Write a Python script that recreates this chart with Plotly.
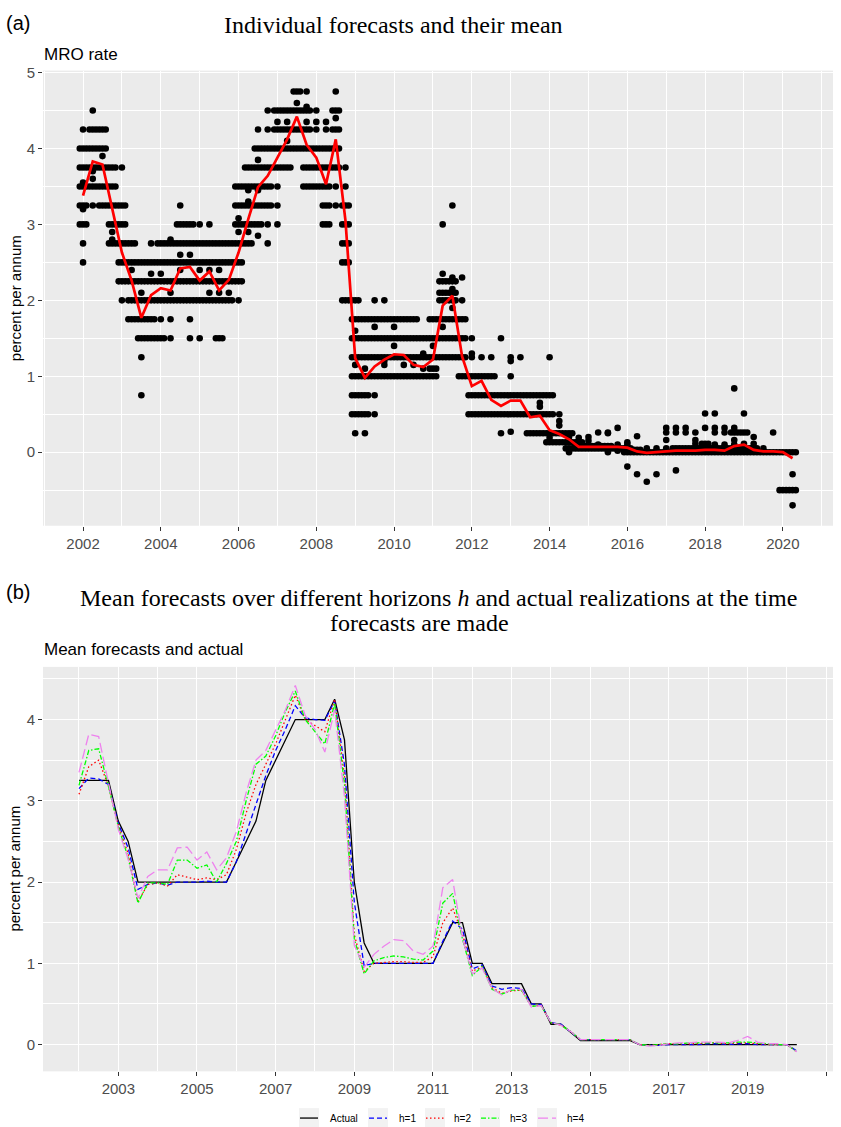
import pandas as pd
import plotly.graph_objects as go

# ---------------- DATA ----------------
quarters = pd.period_range("2002Q1", "2020Q2", freq="Q")
qx = [p.year + (p.quarter - 1) / 4 for p in quarters]

# individual forecasts: levels reported through the quarter (bands) and isolated forecasts (singles)
band_levels = [
    "4 3.75 3.5 3.25 3", "4.25 4 3.75 3.5", "4.25 4 3.75 3.5 3.25", "3.75 3.5 3.25 3 2.75",
    "3.25 3 2.75 2.5 2.25", "2.75 2.5 2.25 2 1.75", "2.5 2.25 2 1.75 1.5", "2.5 2.25 2 1.75 1.5",
    "2.75 2.5 2.25 2 1.5", "2.75 2.5 2.25 2", "3 2.75 2.5 2.25 2", "3 2.75 2.5 2.25 2",
    "2.75 2.5 2.25 2", "2.75 2.5 2.25 2", "2.75 2.5 2.25 2 1.5", "2.75 2.5 2.25 2",
    "3.5 3.25 3 2.75 2.5 2.25", "3.75 3.5 3.25 3 2.75", "4 3.75 3.5 3.25 3", "4 3.75 3.5 3.25",
    "4.5 4.25 4 3.75", "4.5 4.25 4 3.75", "4.75 4.5 4.25 4", "4.5 4.25 4 3.75 3.5",
    "4 3.75 3.5", "4 3.75 3.5 3.25 3", "4.5 4.25 4 3.75", "3.25 3 2.75 2.5 2",
    "2 1.75 1.5 1.25 1 0.75 0.5", "1.75 1.5 1.25 1 0.75 0.5", "1.75 1.5 1.25 1", "1.75 1.5 1.25 1",
    "1.75 1.5 1.25 1", "1.75 1.5 1.25 1", "1.75 1.5 1.25 1", "1.5 1.25 1",
    "1.75 1.5 1.25 1.1 1", "2.25 2.1 2 1.75 1.5 1.25", "2.25 2.1 2 1.75 1.5 1.25", "1.75 1.5 1.25 1",
    "1 0.75 0.5", "1 0.75 0.5", "1 0.75 0.5", "0.75 0.5",
    "0.75 0.5", "0.75 0.5", "0.75 0.5 0.25", "0.75 0.5 0.25",
    "0.75 0.5 0.25 0.13", "0.25 0.13", "0.25 0.13 0.05", "0.13 0.08 0.05",
    "0.08 0.05", "0.08 0.05", "0.08 0.05", "0.05",
    "0.05 0", "0.03 0", "0", "0",
    "0", "0.05 0", "0.05 0", "0.05 0",
    "0.11 0.05 0", "0.05 0", "0.05 0", "0.26 0.05 0",
    "0.26 0.05 0", "0.05 0", "0", "0",
    "0 -0.5", "0 -0.5",
]
single_levels = [
    "4.25 3.55 3.2 2.75 2.5", "4.5 3.7 3.6 3.25", "3.9", "2.9 2.8",
    "3.75 2", "2.4", "2.1 1.25 0.75", "2.75 2.35",
    "2.35 1.75", "2.8 2.1 1.75 1.5", "3.25 2.6 2.4", "2.6 1.75 1.5",
    "3 2.4 1.5", "3 2.4 2.1", "2.4 2.1", "2.1",
    "3.08 2.9 2", "3.45 3.3 2.9", "4.25 3.85 3.45 2.85", "4.5 4.25 3 2.75",
    "4.35 3.5 3.25 3", "4.35 4.1", "4.6", "4.75 4.55 4.35",
    "4.5 4.35 4.25", "4.35 4.25", "4.75 4.4 3.5 3.25", "3.75 3.5",
    "1.6 1.15 0.25", "1.1 0.25", "2 1.65 0.75 0.5", "2 1.2 1.15",
    "1.65 1.4", "1.15", "1.15", "1.3 1.1",
    "1.4", "3 2.35 1.65", "3.25 2.3 2.15 1.9", "2.3 2",
    "1.5 1.3 1.25", "1.25", "1.25", "1.5 0.25",
    "1.25 1.2 1 0.27", "1.25", "", "0.65 0.6",
    "1.25 0.19", "0.5 0.41 0.35", "0.2 0", "0.19",
    "0.2 0.15", "0.26 0.1", "0.26 0.25 0", "0.32 0.1 0.02",
    "0.13 0.1 -0.19", "0.21 -0.29", "0.05 -0.39", "0.05 -0.29",
    "0.32 0.26 0.16 0.05", "0.32 0.26 -0.24", "0.32 0.26", "0.26 0.16 0.11",
    "0.51 0.32", "0.51 0.32 0.26 0.1", "0.32 0.26 0.1", "0.84 0.32 0.16 0.1",
    "0.51 0.11", "0.2 0.11", "0.05", "0.26",
    "", "-0.29 -0.7",
]
month_offsets = [-1 / 12, 0, 1 / 12]

mean_forecast = [
    3.38, 3.83, 3.79, 3.20, 2.63, 2.26, 1.77, 2.07, 2.16, 2.13,
    2.42, 2.44, 2.26, 2.38, 2.13, 2.27, 2.63, 3.07, 3.49, 3.64,
    3.88, 4.12, 4.42, 4.05, 3.88, 3.53, 4.12, 3.05, 1.24, 0.98,
    1.13, 1.22, 1.29, 1.28, 1.15, 1.12, 1.22, 1.93, 2.06, 1.26,
    0.87, 0.94, 0.69, 0.61, 0.68, 0.68, 0.46, 0.48, 0.29, 0.24,
    0.17, 0.07, 0.07, 0.07, 0.07, 0.07, 0.06, 0.01, -0.01, 0.00,
    0.01, 0.02, 0.02, 0.02, 0.03, 0.03, 0.02, 0.08, 0.10, 0.03,
    0.01, 0.01, 0.00, -0.08,
]
actual = [
    3.25, 3.25, 3.25, 3.25, 2.75, 2.50, 2.00, 2.00, 2.00, 2.00,
    2.00, 2.00, 2.00, 2.00, 2.00, 2.00, 2.25, 2.50, 2.75, 3.25,
    3.50, 3.75, 4.00, 4.00, 4.00, 4.00, 4.25, 3.75, 2.00, 1.25,
    1.00, 1.00, 1.00, 1.00, 1.00, 1.00, 1.00, 1.25, 1.50, 1.50,
    1.00, 1.00, 0.75, 0.75, 0.75, 0.75, 0.50, 0.50, 0.25, 0.25,
    0.15, 0.05, 0.05, 0.05, 0.05, 0.05, 0.05, 0.00, 0.00, 0.00,
    0.00, 0.00, 0.00, 0.00, 0.00, 0.00, 0.00, 0.00, 0.00, 0.00,
    0.00, 0.00, 0.00, 0.00,
]
h1 = [
    3.15, 3.28, 3.27, 3.20, 2.72, 2.42, 1.91, 1.97, 1.99, 1.96,
    2.00, 2.00, 2.00, 2.01, 2.00, 2.00, 2.25, 2.60, 2.95, 3.31,
    3.62, 3.88, 4.17, 4.02, 4.00, 3.99, 4.23, 3.44, 1.75, 0.97,
    1.00, 1.00, 1.00, 1.00, 1.00, 1.00, 1.00, 1.27, 1.52, 1.42,
    0.93, 0.98, 0.72, 0.68, 0.70, 0.69, 0.50, 0.49, 0.27, 0.25,
    0.16, 0.06, 0.06, 0.06, 0.06, 0.06, 0.06, 0.00, -0.01, -0.01,
    0.00, 0.00, 0.00, 0.00, 0.01, 0.01, 0.00, 0.01, 0.01, 0.00,
    0.00, 0.00, 0.00, -0.08,
]
h2 = [
    3.08, 3.42, 3.50, 3.18, 2.70, 2.35, 1.76, 1.97, 1.99, 1.95,
    2.09, 2.06, 2.03, 2.05, 2.03, 2.09, 2.40, 2.85, 3.20, 3.45,
    3.70, 4.00, 4.30, 4.00, 3.92, 3.85, 4.25, 3.30, 1.35, 0.90,
    1.00, 1.01, 1.02, 1.02, 1.01, 1.01, 1.08, 1.50, 1.68, 1.36,
    0.90, 0.96, 0.70, 0.63, 0.66, 0.67, 0.47, 0.48, 0.27, 0.24,
    0.16, 0.06, 0.06, 0.06, 0.06, 0.06, 0.06, 0.00, -0.01, 0.00,
    0.01, 0.01, 0.01, 0.01, 0.02, 0.02, 0.01, 0.02, 0.02, 0.01,
    0.00, 0.00, 0.00, -0.09,
]
h3 = [
    3.19, 3.62, 3.64, 3.18, 2.68, 2.30, 1.74, 1.99, 1.99, 1.97,
    2.27, 2.27, 2.17, 2.21, 2.00, 2.23, 2.50, 3.00, 3.45, 3.55,
    3.80, 4.10, 4.35, 4.00, 3.85, 3.70, 4.20, 3.20, 1.30, 0.87,
    1.03, 1.07, 1.09, 1.08, 1.05, 1.04, 1.15, 1.74, 1.86, 1.30,
    0.85, 0.96, 0.68, 0.62, 0.67, 0.67, 0.47, 0.48, 0.27, 0.24,
    0.16, 0.06, 0.06, 0.06, 0.06, 0.06, 0.06, 0.00, -0.01, 0.00,
    0.01, 0.01, 0.02, 0.02, 0.02, 0.02, 0.02, 0.03, 0.03, 0.02,
    0.01, 0.00, 0.00, -0.09,
]
h4 = [
    3.35, 3.82, 3.79, 3.20, 2.65, 2.28, 1.80, 2.07, 2.15, 2.15,
    2.42, 2.43, 2.27, 2.37, 2.15, 2.30, 2.62, 3.10, 3.50, 3.62,
    3.88, 4.12, 4.42, 4.05, 3.88, 3.60, 4.12, 3.05, 1.22, 0.95,
    1.11, 1.21, 1.29, 1.28, 1.15, 1.11, 1.21, 1.93, 2.03, 1.31,
    0.87, 0.94, 0.69, 0.61, 0.68, 0.68, 0.46, 0.48, 0.27, 0.24,
    0.16, 0.06, 0.06, 0.06, 0.06, 0.06, 0.06, 0.00, -0.02, -0.01,
    0.01, 0.02, 0.02, 0.03, 0.03, 0.03, 0.02, 0.05, 0.10, 0.03,
    0.01, 0.01, 0.00, -0.09,
]

series_names = ["Actual", "h=1", "h=2", "h=3", "h=4"]
series_colors = ["#000000", "#0000FF", "#FF0000", "#00FF00", "#EE82EE"]
series_dash = ["solid", "5px,3px", "1.5px,2.5px", "5px,2px,1.5px,2px", "10px,4px"]

xticks_a = [2002, 2004, 2006, 2008, 2010, 2012, 2014, 2016, 2018, 2020]
xminor_a = [2001, 2003, 2005, 2007, 2009, 2011, 2013, 2015, 2017, 2019, 2021]
xticks_b = [2003, 2005, 2007, 2009, 2011, 2013, 2015, 2017, 2019, 2021]
xminor_b = [2002, 2004, 2006, 2008, 2010, 2012, 2014, 2016, 2018, 2020]
yticks_a = [0, 1, 2, 3, 4, 5]
yminor_a = [-0.5, 0.5, 1.5, 2.5, 3.5, 4.5]
yticks_b = [0, 1, 2, 3, 4]
yminor_b = [0.5, 1.5, 2.5, 3.5, 4.5]

# ---------------- FIGURE ----------------
W, H = 841, 1127


def px(x):
    return x / W


def py(y):
    return 1 - y / H


dot_x, dot_y = [], []
for x, b, s in zip(qx, band_levels, single_levels):
    for v in b.split():
        for m in month_offsets:
            dot_x.append(x + m)
            dot_y.append(float(v))
    for v in s.split():
        dot_x.append(x)
        dot_y.append(float(v))

fig = go.Figure()
fig.add_trace(go.Scatter(x=dot_x, y=dot_y, mode="markers", xaxis="x", yaxis="y",
                         marker=dict(size=6.6, color="black", line=dict(width=0)),
                         name="Individual forecasts", showlegend=False))
fig.add_trace(go.Scatter(x=qx, y=mean_forecast, mode="lines", xaxis="x", yaxis="y",
                         line=dict(color="#FF0000", width=2.7), name="Mean", showlegend=False))

for name, vals, col, dash in zip(series_names, [actual, h1, h2, h3, h4], series_colors, series_dash):
    fig.add_trace(go.Scatter(x=qx, y=vals, mode="lines", xaxis="x2", yaxis="y2",
                             line=dict(color=col, width=1.3, dash=dash), name=name, showlegend=False))

tickfont = dict(family="Liberation Sans, Arial, sans-serif", size=15, color="#4D4D4D")


def xaxis_cfg(rng, ticks, minor, anchor):
    return dict(domain=[px(43), px(833)], range=rng, anchor=anchor,
                tickmode="array", tickvals=ticks, ticktext=[str(t) for t in ticks],
                ticks="outside", ticklen=4, tickwidth=1, tickcolor="#333333",
                showgrid=True, gridcolor="white", gridwidth=1.4,
                minor=dict(tickvals=minor, showgrid=True, gridcolor="white", gridwidth=0.7, ticks=""),
                zeroline=False, showline=False, tickfont=tickfont)


def yaxis_cfg(dom, rng, ticks, minor, anchor):
    return dict(domain=dom, range=rng, anchor=anchor,
                tickmode="array", tickvals=ticks, ticktext=[str(t) for t in ticks],
                ticks="outside", ticklen=4, tickwidth=1, tickcolor="#333333",
                showgrid=True, gridcolor="white", gridwidth=1.4,
                minor=dict(tickvals=minor, showgrid=True, gridcolor="white", gridwidth=0.7, ticks=""),
                zeroline=False, showline=False, tickfont=tickfont)


fig.update_layout(
    width=W, height=H, autosize=False,
    margin=dict(l=0, r=0, t=0, b=0),
    paper_bgcolor="white", plot_bgcolor="#EBEBEB",
    showlegend=False,
    xaxis=xaxis_cfg([2000.97, 2021.29], xticks_a, xminor_a, "y"),
    yaxis=yaxis_cfg([py(522), py(64)], [-0.969, 5.026], yticks_a, yminor_a, "x"),
    xaxis2=xaxis_cfg([2001.085, 2021.17], xticks_b, xminor_b, "y2"),
    yaxis2=yaxis_cfg([py(1071), py(664)], [-0.330, 4.648], yticks_b, yminor_b, "x2"),
)

sans = "Liberation Sans, Arial, sans-serif"
serif = "Liberation Serif, Times New Roman, serif"
ann = [
    dict(text="(a)", x=px(4), y=py(16), xanchor="left", yanchor="middle",
         font=dict(family=sans, size=20, color="black")),
    dict(text="Individual forecasts and their mean", x=px(393.5), y=py(18), xanchor="center", yanchor="middle",
         font=dict(family=serif, size=24, color="black")),
    dict(text="MRO rate", x=px(42), y=py(48), xanchor="left", yanchor="middle",
         font=dict(family=sans, size=17, color="black")),
    dict(text="percent per annum", x=px(15), y=py(293), xanchor="center", yanchor="middle", textangle=-90,
         font=dict(family=sans, size=15, color="black")),
    dict(text="(b)", x=px(4), y=py(589), xanchor="left", yanchor="middle",
         font=dict(family=sans, size=20, color="black")),
    dict(text="Mean forecasts over different horizons <i>h</i> and actual realizations at the time",
         x=px(438), y=py(595), xanchor="center", yanchor="middle",
         font=dict(family=serif, size=24, color="black")),
    dict(text="forecasts are made", x=px(419), y=py(620), xanchor="center", yanchor="middle",
         font=dict(family=serif, size=24, color="black")),
    dict(text="Mean forecasts and actual", x=px(42), y=py(647), xanchor="left", yanchor="middle",
         font=dict(family=sans, size=17, color="black")),
    dict(text="percent per annum", x=px(15), y=py(867), xanchor="center", yanchor="middle", textangle=-90,
         font=dict(family=sans, size=15, color="black")),
]

# custom legend (ggplot-style keys)
key_left = [299, 368, 425, 480, 537]
label_left = [328, 397, 452, 508, 565]
shapes = []
for kl, ll, name, col, dash in zip(key_left, label_left, series_names, series_colors, series_dash):
    shapes.append(dict(type="rect", xref="paper", yref="paper", x0=px(kl), x1=px(kl + 20),
                       y0=py(1128), y1=py(1108), fillcolor="#F2F2F2", line=dict(width=0), layer="below"))
    shapes.append(dict(type="line", xref="paper", yref="paper", x0=px(kl + 1), x1=px(kl + 19),
                       y0=py(1118), y1=py(1118), line=dict(color=col, width=1.3, dash=dash)))
    ann.append(dict(text=name, x=px(ll), y=py(1118), xanchor="left", yanchor="middle",
                    font=dict(family=sans, size=10, color="black")))

fig.update_layout(annotations=[dict(a, xref="paper", yref="paper", showarrow=False) for a in ann],
                  shapes=shapes)

fig.write_html("out.html", config={"displayModeBar": False},
               post_script="document.body.style.margin='0';")
